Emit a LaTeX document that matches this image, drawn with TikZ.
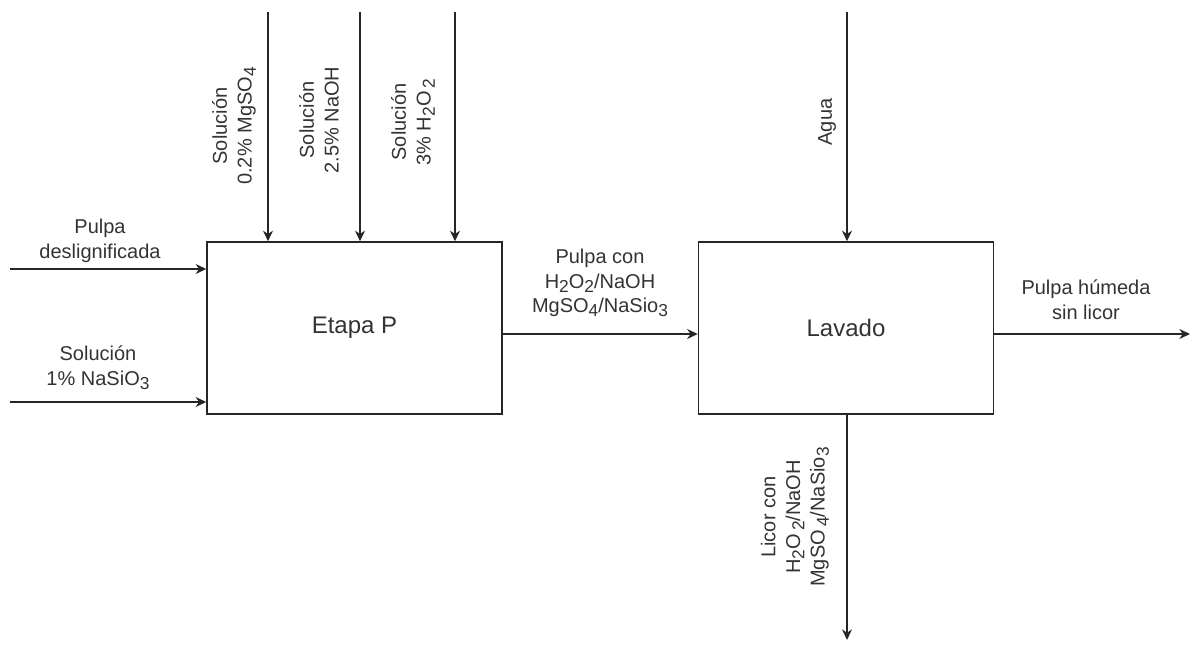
\documentclass[tikz,border=0pt]{standalone}
\usepackage{fontspec}
\setmainfont{Liberation Sans}
\usetikzlibrary{arrows.meta}
\newcommand{\sbs}[1]{\raisebox{-0.4ex}{\fontsize{13}{13}\selectfont #1}}
\begin{document}
\begin{tikzpicture}[x=0.75pt,y=-0.75pt,
  procbox/.style={draw=black!85,line width=1.1pt,minimum width=221.25pt,minimum height=129pt,inner sep=0pt,font=\fontsize{18}{21}\selectfont,text=black!80},
  flow/.style={draw=black!85,line width=1.1pt,-{Stealth[length=8pt,width=7.5pt]}},
  lbl/.style={align=center,font=\fontsize{15}{18.5}\selectfont,text=black!80,inner sep=0pt},
  vlbl/.style={lbl,rotate=90}]
\useasboundingbox (0,0) rectangle (1197,646);
\node[procbox] (p) at (354.5,328) {Etapa P};
\node[procbox] (l) at (846,328) {Lavado};
% top inputs
\coordinate (t1) at (268,12);
\coordinate (t2) at (360,12);
\coordinate (t3) at (455,12);
\coordinate (ta) at (847,12);
\draw[flow] (t1) -- (t1 |- p.north);
\draw[flow] (t2) -- (t2 |- p.north);
\draw[flow] (t3) -- (t3 |- p.north);
\draw[flow] (ta) -- (ta |- l.north);
% left inputs
\coordinate (i1) at (10,269);
\coordinate (i2) at (10,402);
\draw[flow] (i1) -- (i1 -| p.west);
\draw[flow] (i2) -- (i2 -| p.west);
% middle
\coordinate (m1) at (502,334);
\draw[flow] (m1 -| p.east) -- (m1 -| l.west);
% outputs
\coordinate (o1) at (1190,334);
\draw[flow] (o1 -| l.east) -- (o1);
\coordinate (o2) at (847,640);
\draw[flow] (o2 |- l.south) -- (o2);
% labels
\node[vlbl] (lt1) at (234,126) {Solución\\0.2\% MgSO\sbs{4}};
\node[vlbl] (lt2) at (319,120) {Solución\\2.5\% NaOH};
\node[vlbl] (lt3) at (413,122) {Solución\\3\% H\sbs{2}O\,\sbs{2}};
\node[vlbl] (lta) at (827,122) {Agua};
\node[lbl] (li1) at (100,241) {Pulpa\\deslignificada};
\node[lbl] (li2) at (98,368) {Solución\\1\% NaSiO\sbs{3}};
\node[lbl] (lm) at (600,283) {Pulpa con\\H\sbs{2}O\sbs{2}/NaOH\\MgSO\sbs{4}/NaSio\sbs{3}};
\node[lbl] (lo1) at (1086,300) {Pulpa húmeda\\sin licor};
\node[vlbl] (lo2) at (795,517) {Licor con\\H\sbs{2}O\,\sbs{2}/NaOH\\MgSO\,\sbs{4}/NaSio\sbs{3}};
\end{tikzpicture}
\end{document}
